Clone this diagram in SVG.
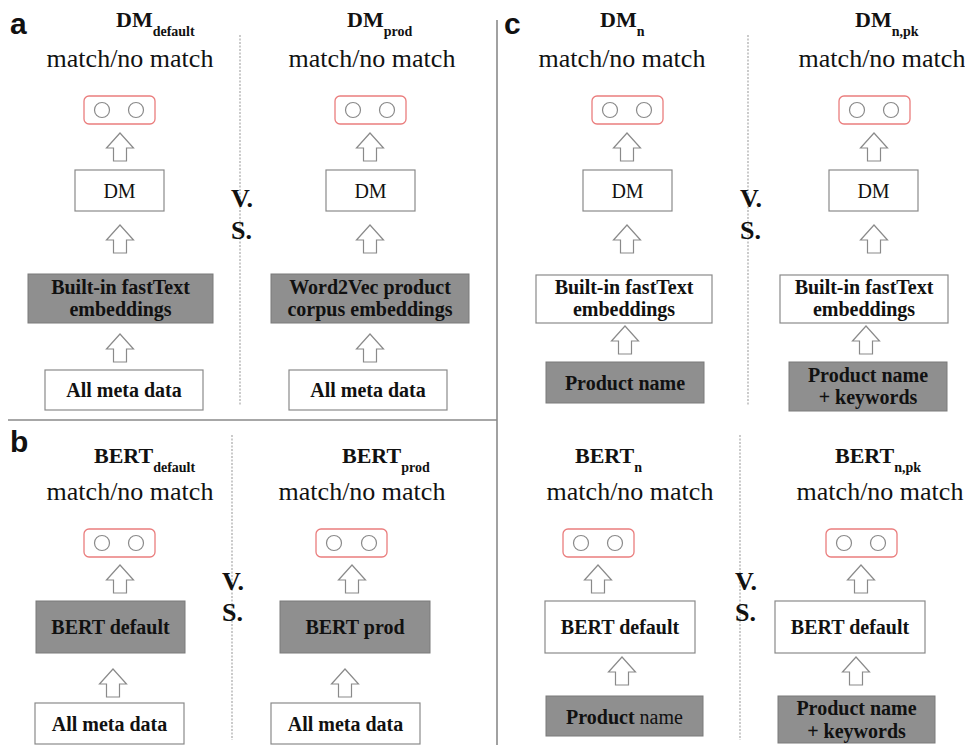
<svg xmlns="http://www.w3.org/2000/svg" xmlns:xlink="http://www.w3.org/1999/xlink" width="965" height="745" viewBox="0 0 965 745">
<style>
.bg{fill:#fff}
.box{fill:#fff;stroke:#8a8a8a;stroke-width:1.2}
.gbox{fill:#8f8f8f;stroke:#7a7a7a;stroke-width:1}
.out{fill:#fff;stroke:#ea7d7d;stroke-width:1.3}
.circ{fill:#fff;stroke:#8a8a8a;stroke-width:1.2}
.arr{fill:#fff;stroke:#8a8a8a;stroke-width:1.2}
.dot{stroke:#a8a8a8;stroke-width:1.2;stroke-dasharray:2 1.5;fill:none}
.sep{stroke:#8a8a8a;stroke-width:1.6;fill:none}
.ttl{font-family:"Liberation Serif",serif;font-weight:bold;font-size:22px;fill:#111}
.sub{font-size:14px}
.mm{font-family:"Liberation Serif",serif;font-size:26px;fill:#111;text-anchor:middle}
.bt{font-family:"Liberation Serif",serif;font-weight:bold;font-size:20px;fill:#111;text-anchor:middle}
.rt{font-family:"Liberation Serif",serif;font-size:20px;fill:#111;text-anchor:middle}
.vs{font-family:"Liberation Serif",serif;font-weight:bold;font-size:26px;fill:#111}
.lbl{font-family:"Liberation Sans",Arial,sans-serif;font-weight:bold;font-size:30px;fill:#111}
</style>
<defs>
<path id="ar" class="arr" d="M0,0 L13.5,15 L6.5,15 L6.5,28 L-6.5,28 L-6.5,15 L-13.5,15 Z"/>
</defs>
<rect class="bg" x="0" y="0" width="965" height="745"/>

<g id="separators">
<line class="sep" x1="8" y1="420" x2="497" y2="420"/>
<line class="sep" x1="497" y1="20" x2="497" y2="745"/>
<line class="dot" x1="240" y1="35" x2="240" y2="405"/>
<line class="dot" x1="232" y1="435" x2="232" y2="740"/>
<line class="dot" x1="748" y1="35" x2="748" y2="405"/>
<line class="dot" x1="740" y1="435" x2="740" y2="740"/>
</g>

<g id="labels">
<text class="lbl" x="10" y="34">a</text>
<text class="lbl" x="10" y="452">b</text>
<text class="lbl" x="504" y="34">c</text>
<text class="vs" x="231" y="207">V.</text>
<text class="vs" x="231" y="239">S.</text>
<text class="vs" x="222" y="590">V.</text>
<text class="vs" x="222" y="621">S.</text>
<text class="vs" x="740" y="207">V.</text>
<text class="vs" x="740" y="239">S.</text>
<text class="vs" x="735" y="590">V.</text>
<text class="vs" x="735" y="621">S.</text>
</g>

<!-- Panel a column 1 -->
<g id="a1-title">
<text class="ttl" x="116" y="27">DM<tspan class="sub" dy="9">default</tspan></text>
<text class="mm" x="130" y="67">match/no match</text>
</g>
<g id="a1-out"><rect class="out" x="84" y="96" width="71" height="28" rx="5"/><circle class="circ" cx="102" cy="110" r="7.5"/><circle class="circ" cx="136" cy="110" r="7.5"/></g>
<g id="a1-dm"><rect class="box" x="75" y="170" width="89" height="41"/><text class="rt" x="119.5" y="198">DM</text></g>
<g id="a1-emb"><rect class="gbox" x="28" y="274" width="185" height="49"/><text class="bt" x="120.5" y="294">Built-in fastText</text><text class="bt" x="120.5" y="316">embeddings</text></g>
<g id="a1-meta"><rect class="box" x="45" y="370" width="158" height="40"/><text class="bt" x="124" y="397">All meta data</text></g>

<!-- Panel a column 2 -->
<g id="a2-title">
<text class="ttl" x="347" y="27">DM<tspan class="sub" dy="9">prod</tspan></text>
<text class="mm" x="372" y="67">match/no match</text>
</g>
<g id="a2-out"><rect class="out" x="335" y="96" width="71" height="28" rx="5"/><circle class="circ" cx="353" cy="110" r="7.5"/><circle class="circ" cx="387" cy="110" r="7.5"/></g>
<g id="a2-dm"><rect class="box" x="326" y="170" width="89" height="41"/><text class="rt" x="370.5" y="198">DM</text></g>
<g id="a2-emb"><rect class="gbox" x="271" y="274" width="198" height="49"/><text class="bt" x="370" y="294">Word2Vec product</text><text class="bt" x="370" y="316">corpus embeddings</text></g>
<g id="a2-meta"><rect class="box" x="289" y="370" width="158" height="40"/><text class="bt" x="368" y="397">All meta data</text></g>

<!-- Panel b column 1 -->
<g id="b1-title">
<text class="ttl" x="94" y="463">BERT<tspan class="sub" dy="9">default</tspan></text>
<text class="mm" x="130" y="500">match/no match</text>
</g>
<g id="b1-out"><rect class="out" x="84" y="529" width="71" height="28" rx="5"/><circle class="circ" cx="102" cy="543" r="7.5"/><circle class="circ" cx="136" cy="543" r="7.5"/></g>
<g id="b1-bert"><rect class="gbox" x="36" y="601" width="149" height="52"/><text class="bt" x="110.5" y="634">BERT default</text></g>
<g id="b1-meta"><rect class="box" x="35" y="703" width="149" height="41"/><text class="bt" x="109.5" y="731">All meta data</text></g>

<!-- Panel b column 2 -->
<g id="b2-title">
<text class="ttl" x="342" y="463">BERT<tspan class="sub" dy="9">prod</tspan></text>
<text class="mm" x="362" y="500">match/no match</text>
</g>
<g id="b2-out"><rect class="out" x="316" y="529" width="71" height="28" rx="5"/><circle class="circ" cx="334" cy="543" r="7.5"/><circle class="circ" cx="369" cy="543" r="7.5"/></g>
<g id="b2-bert"><rect class="gbox" x="280" y="601" width="150" height="52"/><text class="bt" x="355" y="634">BERT prod</text></g>
<g id="b2-meta"><rect class="box" x="271" y="703" width="149" height="41"/><text class="bt" x="345.5" y="731">All meta data</text></g>

<!-- Panel c top column 1 -->
<g id="c1-title">
<text class="ttl" x="600" y="27">DM<tspan class="sub" dy="9">n</tspan></text>
<text class="mm" x="622" y="67">match/no match</text>
</g>
<g id="c1-out"><rect class="out" x="592" y="96" width="71" height="28" rx="5"/><circle class="circ" cx="610" cy="110" r="7.5"/><circle class="circ" cx="644" cy="110" r="7.5"/></g>
<g id="c1-dm"><rect class="box" x="583" y="170" width="89" height="41"/><text class="rt" x="627.5" y="198">DM</text></g>
<g id="c1-emb"><rect class="box" x="536" y="275" width="176" height="48"/><text class="bt" x="624" y="294">Built-in fastText</text><text class="bt" x="624" y="316">embeddings</text></g>
<g id="c1-name"><rect class="gbox" x="546" y="362" width="158" height="41"/><text class="bt" x="625" y="390">Product name</text></g>

<!-- Panel c top column 2 -->
<g id="c2-title">
<text class="ttl" x="855" y="27">DM<tspan class="sub" dy="9">n,pk</tspan></text>
<text class="mm" x="882" y="67">match/no match</text>
</g>
<g id="c2-out"><rect class="out" x="839" y="96" width="71" height="28" rx="5"/><circle class="circ" cx="857" cy="110" r="7.5"/><circle class="circ" cx="891" cy="110" r="7.5"/></g>
<g id="c2-dm"><rect class="box" x="829" y="170" width="89" height="41"/><text class="rt" x="873.5" y="198">DM</text></g>
<g id="c2-emb"><rect class="box" x="780" y="275" width="168" height="48"/><text class="bt" x="864" y="294">Built-in fastText</text><text class="bt" x="864" y="316">embeddings</text></g>
<g id="c2-name"><rect class="gbox" x="789" y="362" width="158" height="49"/><text class="bt" x="868" y="382">Product name</text><text class="bt" x="868" y="404">+ keywords</text></g>

<!-- Panel c bottom column 1 -->
<g id="c3-title">
<text class="ttl" x="575" y="463">BERT<tspan class="sub" dy="9">n</tspan></text>
<text class="mm" x="630" y="500">match/no match</text>
</g>
<g id="c3-out"><rect class="out" x="563" y="529" width="71" height="28" rx="5"/><circle class="circ" cx="581" cy="543" r="7.5"/><circle class="circ" cx="615" cy="543" r="7.5"/></g>
<g id="c3-bert"><rect class="box" x="545" y="601" width="150" height="52"/><text class="bt" x="620" y="634">BERT default</text></g>
<g id="c3-name"><rect class="gbox" x="546" y="696" width="157" height="40"/><text class="bt" x="624.5" y="724">Product<tspan font-weight="normal"> name</tspan></text></g>

<!-- Panel c bottom column 2 -->
<g id="c4-title">
<text class="ttl" x="835" y="463">BERT<tspan class="sub" dy="9">n,pk</tspan></text>
<text class="mm" x="880" y="500">match/no match</text>
</g>
<g id="c4-out"><rect class="out" x="826" y="529" width="71" height="28" rx="5"/><circle class="circ" cx="844" cy="543" r="7.5"/><circle class="circ" cx="878" cy="543" r="7.5"/></g>
<g id="c4-bert"><rect class="box" x="775" y="601" width="150" height="52"/><text class="bt" x="850" y="634">BERT default</text></g>
<g id="c4-name"><rect class="gbox" x="778" y="696" width="157" height="47"/><text class="bt" x="856.5" y="715">Product name</text><text class="bt" x="856.5" y="738">+ keywords</text></g>

<g id="connectors">
<use xlink:href="#ar" x="120" y="133"/>
<use xlink:href="#ar" x="120" y="225"/>
<use xlink:href="#ar" x="120" y="334"/>
<use xlink:href="#ar" x="370" y="133"/>
<use xlink:href="#ar" x="370" y="225"/>
<use xlink:href="#ar" x="370" y="334"/>
<use xlink:href="#ar" x="120" y="565"/>
<use xlink:href="#ar" x="113" y="669"/>
<use xlink:href="#ar" x="352" y="565"/>
<use xlink:href="#ar" x="345" y="669"/>
<use xlink:href="#ar" x="627" y="133"/>
<use xlink:href="#ar" x="627" y="225"/>
<use xlink:href="#ar" x="625" y="326"/>
<use xlink:href="#ar" x="874" y="133"/>
<use xlink:href="#ar" x="874" y="225"/>
<use xlink:href="#ar" x="866" y="326"/>
<use xlink:href="#ar" x="598" y="565"/>
<use xlink:href="#ar" x="622" y="657"/>
<use xlink:href="#ar" x="861" y="565"/>
<use xlink:href="#ar" x="856" y="657"/>
</g>
</svg>
